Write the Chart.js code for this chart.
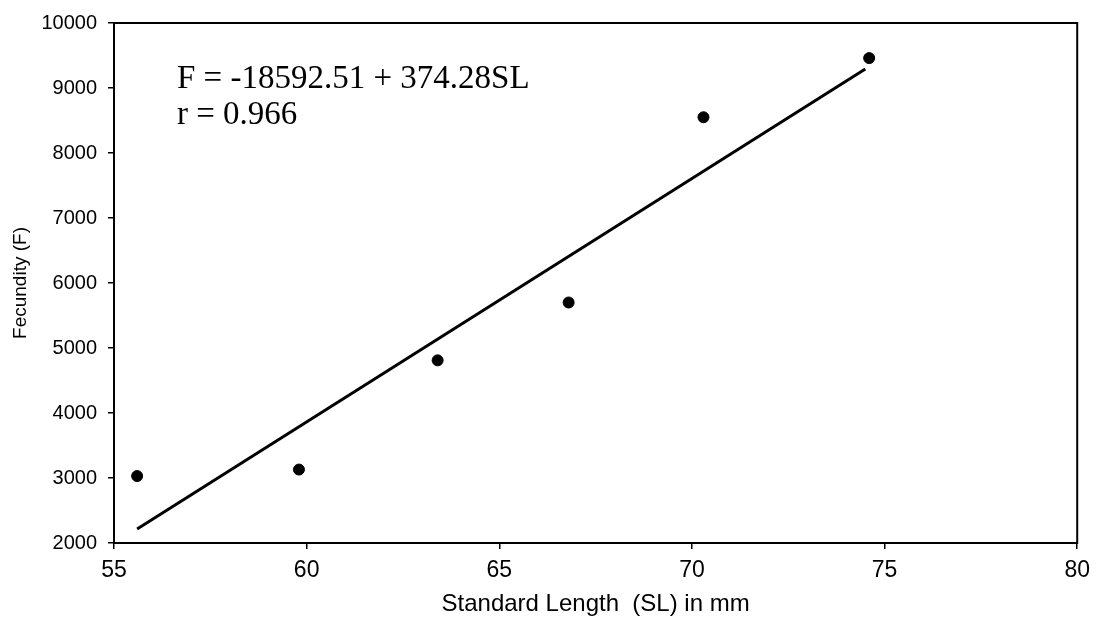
<!DOCTYPE html>
<html>
<head>
<meta charset="utf-8">
<script src="https://cdn.jsdelivr.net/npm/chart.js"></script>
<style>
  html, body { margin: 0; padding: 0; background: #fff; }
  #wrap { width: 1098px; height: 621px; }
</style>
</head>
<body>
<div id="wrap"><canvas id="chart" width="1098" height="621"></canvas></div>
<script>
// standard length (mm) and fecundity
const lengthSL = [55.6, 59.8, 63.4, 66.8, 70.3, 74.6];
const fecundity = [3030, 3130, 4810, 5700, 8550, 9460];

// fitted regression line, end points
const fitX = [55.6, 74.5];
const fitY = [2217, 9291];

const xTicks = [55, 60, 65, 70, 75, 80];
const yTicks = [2000, 3000, 4000, 5000, 6000, 7000, 8000, 9000, 10000];

const equationLines = ['F = -18592.51 + 374.28SL', 'r = 0.966'];

const sansFont = 'Arial, "Liberation Sans", sans-serif';

// box around the plot area + equation text
const framePlugin = {
    id: 'frame',
    afterDraw(chart) {
        const ctx = chart.ctx;
        const a = chart.chartArea;
        ctx.save();
        ctx.strokeStyle = '#000';
        ctx.lineWidth = 2;
        ctx.strokeRect(a.left, a.top, a.right - a.left, a.bottom - a.top);
        ctx.fillStyle = '#000';
        ctx.font = '33px "Liberation Serif", "Times New Roman", serif';
        ctx.textBaseline = 'middle';
        ctx.fillText(equationLines[0], a.left + 63, a.top + 56);
        ctx.fillText(equationLines[1], a.left + 63, a.top + 92);
        ctx.restore();
    }
};

const ctx = document.getElementById('chart').getContext('2d');
new Chart(ctx, {
    type: 'scatter',
    data: {
        datasets: [{
            label: 'Observed',
            data: lengthSL.map((x, i) => ({ x: x, y: fecundity[i] })),
            backgroundColor: '#000',
            borderColor: '#000',
            pointRadius: 5.5,
            pointHoverRadius: 5.5
        }, {
            label: 'Fit',
            type: 'line',
            data: fitX.map((x, i) => ({ x: x, y: fitY[i] })),
            borderColor: '#000',
            borderWidth: 3,
            pointRadius: 0,
            fill: false
        }]
    },
    options: {
        responsive: false,
        animation: false,
        layout: { padding: { left: 0, top: 18, right: 20, bottom: 0 } },
        plugins: {
            legend: { display: false },
            tooltip: { enabled: false }
        },
        scales: {
            x: {
                type: 'linear',
                min: 55,
                max: 80,
                afterFit: s => { s.height = 78; },
                afterBuildTicks: s => { s.ticks = xTicks.map(v => ({ value: v })); },
                grid: { display: true, drawOnChartArea: false, drawTicks: true, tickLength: 6, color: '#000', lineWidth: 1.5 },
                border: { display: false },
                ticks: {
                    color: '#000',
                    padding: 8,
                    font: { family: sansFont, size: 23 },
                    callback: v => String(v)
                },
                title: {
                    display: true,
                    text: 'Standard Length  (SL) in mm',
                    color: '#000',
                    padding: { top: 0, bottom: 2 },
                    font: { family: sansFont, size: 24 }
                }
            },
            y: {
                min: 2000,
                max: 10000,
                afterFit: s => { s.width = 114; },
                afterBuildTicks: s => { s.ticks = yTicks.map(v => ({ value: v })); },
                grid: { display: true, drawOnChartArea: false, drawTicks: true, tickLength: 6, color: '#000', lineWidth: 1.5 },
                border: { display: false },
                ticks: {
                    color: '#000',
                    padding: 11,
                    font: { family: sansFont, size: 20 },
                    callback: v => String(v)
                },
                title: {
                    display: true,
                    text: 'Fecundity (F)',
                    color: '#000',
                    padding: { top: 9, bottom: 0 },
                    font: { family: sansFont, size: 19 }
                }
            }
        }
    },
    plugins: [framePlugin]
});
</script>
</body>
</html>
